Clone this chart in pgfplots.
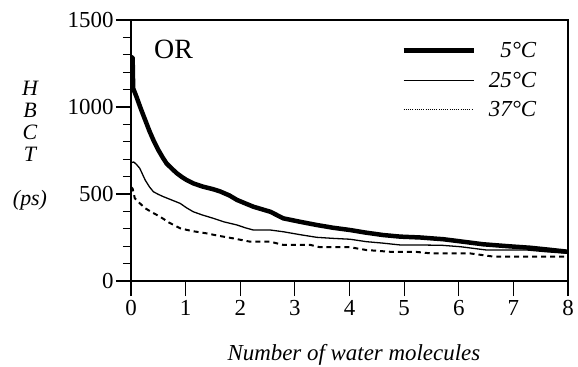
\documentclass[border=0pt]{standalone}
\usepackage{pgfplots}
\pgfplotsset{compat=1.18}
\usepackage{fontspec}
\setmainfont{Liberation Serif}
\begin{document}
\begin{tikzpicture}
\useasboundingbox (-131bp,-86bp) rectangle (447bp,281bp);
\begin{axis}[
  scale only axis,
  width=437bp, height=261bp,
  xmin=0, xmax=8, ymin=0, ymax=1500,
  axis line style={line width=1.2pt},
  xtick={0,...,8},
  ytick={0,500,1000,1500},
  minor ytick={100,200,300,400,600,700,800,900,1100,1200,1300,1400},
  tick align=outside,
  xtick pos=bottom, ytick pos=left,
  major tick length=15bp, minor tick length=8bp,
  every tick/.style={line width=1.2pt, black},
  tick label style={font=\fontsize{23}{25}\selectfont},
  /pgf/number format/assume math mode=true,
  /pgf/number format/1000 sep={},
  yticklabel style={xshift=1bp},
  xticklabel style={yshift=-1bp},
  xlabel={\textit{Number of water molecules}},
  every axis x label/.style={at={(rel axis cs:0.51,0)}, yshift=-74bp, anchor=center, font=\fontsize{23}{25}\selectfont},
  ylabel={\begin{tabular}{c}H\\B\\C\\T\\[22pt](ps)\end{tabular}},
  every axis y label/.style={at={(rel axis cs:0,0.516)}, xshift=-101bp, anchor=center, font=\fontsize{22}{22}\selectfont\itshape},
  legend cell align=right,
  legend image code/.code={\draw[#1] (0bp,0bp) -- (70bp,0bp); \path (82bp,0bp);},
  legend style={draw=none, fill=none, at={(rel axis cs:0.93,0.92)}, anchor=north east,
     inner sep=0pt, font=\fontsize{23}{25}\selectfont\itshape,
     row sep=11bp, nodes={inner sep=1pt}},
]
\addlegendimage{line width=4.5pt, black}
\addlegendentry{5\textdegree C}
\addlegendimage{line width=1.3pt, black}
\addlegendentry{25\textdegree C}
\addlegendimage{line width=1pt, black, dash pattern=on 1pt off 1.2pt}
\addlegendentry{37\textdegree C}

% 5 C
\addplot[black, line width=4.5pt, forget plot] coordinates {
(0.00,1290) (0.03,1280) (0.04,1107) (0.10,1059) (0.18,990) (0.26,925) (0.34,860) (0.41,810)
(0.50,753) (0.58,710) (0.65,676) (0.75,645) (0.84,619) (0.93,598) (1.02,580) (1.15,560)
(1.32,542) (1.50,528) (1.63,515) (1.80,492) (1.94,466) (2.10,445) (2.24,427) (2.40,412) (2.55,398)
(2.79,360) (3.10,340) (3.40,322) (3.70,306) (4.01,293) (4.30,278) (4.62,264) (4.93,255)
(5.30,250) (5.72,240) (6.10,225) (6.45,211) (6.90,200) (7.31,191) (7.65,180) (8.00,168)
};
% 25 C
\addplot[black, line width=1.3pt, forget plot] coordinates {
(0.00,680) (0.05,684) (0.10,670) (0.16,648) (0.26,580) (0.34,540) (0.41,513) (0.50,498)
(0.59,485) (0.75,465) (0.90,446) (1.02,420) (1.14,398) (1.30,380) (1.51,360) (1.70,340)
(1.94,322) (2.10,305) (2.24,293) (2.55,293) (2.79,283) (3.10,266) (3.40,251) (3.70,245)
(4.01,240) (4.31,226) (4.60,218) (4.93,207) (5.30,207) (5.70,205) (6.03,197) (6.51,178)
(7.25,178) (7.60,168) (8.00,159)
};
% 37 C
\addplot[black, line width=2pt, dash pattern=on 5pt off 4pt, forget plot] coordinates {
(0.00,540) (0.03,530) (0.07,475) (0.15,450) (0.26,418) (0.40,392) (0.53,370) (0.70,335)
(0.90,303) (1.10,288) (1.38,274) (1.60,260) (1.87,245) (2.18,226) (2.55,226) (2.79,207)
(3.29,207) (3.46,194) (4.01,194) (4.31,178) (4.74,168) (5.20,168) (5.48,159) (6.20,159)
(6.64,140) (8.00,140)
};
\node[font=\fontsize{28}{30}\selectfont] at (axis cs:0.78,1330) {OR};
\end{axis}
\end{tikzpicture}
\end{document}
